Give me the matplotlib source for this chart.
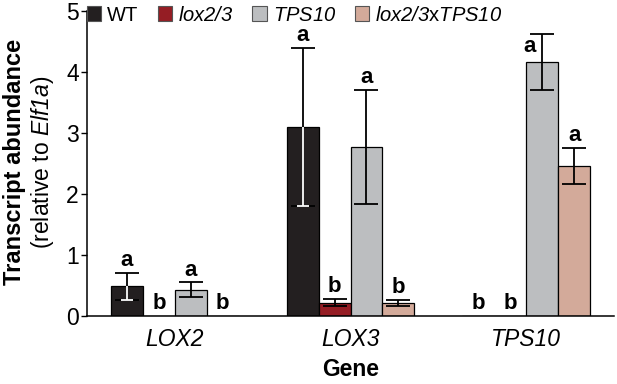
import numpy as np
import matplotlib
matplotlib.use("Agg")
import matplotlib.pyplot as plt
from matplotlib.patches import Patch

plt.rcParams["font.family"] = ["Liberation Sans", "DejaVu Sans"]
# mathtext only used for italic gene names; digits should be italic too
plt.rcParams["mathtext.fontset"] = "custom"
plt.rcParams["mathtext.rm"] = "Liberation Sans:italic"
plt.rcParams["mathtext.it"] = "Liberation Sans:italic"
plt.rcParams["mathtext.sf"] = "Liberation Sans"

genes = ["LOX2", "LOX3", "TPS10"]
genotypes = ["WT", "lox2/3", "TPS10", "lox2/3xTPS10"]
legend_labels = ["WT", r"$lox2/3$", r"$TPS10$", r"$lox2/3\mathsf{x}TPS10$"]
colors = ["#231f20", "#951d24", "#bcbec0", "#d3aa9a"]

means = {
    "WT": [0.49, 3.10, 0.0],
    "lox2/3": [0.0, 0.22, 0.0],
    "TPS10": [0.43, 2.77, 4.17],
    "lox2/3xTPS10": [0.0, 0.22, 2.46],
}
errors = {
    "WT": [0.22, 1.29, 0.0],
    "lox2/3": [0.0, 0.06, 0.0],
    "TPS10": [0.12, 0.93, 0.46],
    "lox2/3xTPS10": [0.0, 0.05, 0.30],
}
letters = {
    "WT": ["a", "a", "b"],
    "lox2/3": ["b", "b", "b"],
    "TPS10": ["a", "a", "a"],
    "lox2/3xTPS10": ["b", "b", "a"],
}

fig = plt.figure(figsize=(6.17, 3.84), dpi=100)
ax = fig.add_axes([87 / 617, 1 - 316 / 384, (614 - 87) / 617, (316 - 11) / 384])

x = np.arange(len(genes))
width = 0.182
capsize = 8.5

for i, g in enumerate(genotypes):
    pos = x + (i - 1.5) * width
    m = np.array(means[g])
    e = np.array(errors[g])
    ax.bar(pos, m, width, color=colors[i], edgecolor="black", linewidth=0.9, zorder=2)
    has = e > 0
    ax.errorbar(pos[has], m[has], yerr=e[has], fmt="none", ecolor="black",
                elinewidth=1.3, capsize=capsize, capthick=1.3, zorder=3)
    if g == "WT":
        # lower half of the error bar drawn white inside the dark bar
        ax.vlines(pos[has], m[has] - e[has], m[has], color="white", linewidth=1.3, zorder=4)
        ax.plot(pos[has], m[has] - e[has], ls="none", marker="_", ms=capsize,
                mew=1.3, color="white", zorder=4)
    for j in range(len(genes)):
        top = m[j] + e[j]
        if top > 4.5:
            ax.annotate(letters[g][j], (pos[j], top - 0.3), xytext=(-9, 0),
                        textcoords="offset points", ha="center", va="baseline",
                        fontsize=16, fontweight="bold")
        else:
            ax.annotate(letters[g][j], (pos[j], top), xytext=(0, 5),
                        textcoords="offset points", ha="center", va="baseline",
                        fontsize=16, fontweight="bold")

ax.set_xlim(-0.5, 2.5)
ax.set_ylim(0, 5)
ax.set_yticks(range(6))
ax.set_xticks(x)
ax.set_xticklabels(genes, fontstyle="italic", fontsize=16.5)
ax.tick_params(axis="y", labelsize=16.5, length=4, width=1, pad=2)
ax.tick_params(axis="x", length=0, pad=9)
ax.spines["top"].set_visible(False)
ax.spines["right"].set_visible(False)
ax.spines["left"].set_linewidth(1.1)
ax.spines["bottom"].set_linewidth(1.1)
ax.set_xlabel("Gene", fontsize=16.5, fontweight="bold", labelpad=5)

fig.text(15 / 617, 1 - 162 / 384, "Transcript abundance", rotation=90,
         ha="center", va="center", fontsize=17, fontweight="bold",
         family=["Liberation Sans Narrow", "Liberation Sans"])
fig.text(43 / 617, 1 - 162 / 384, "(relative to $Elf1a$)", rotation=90,
         ha="center", va="center", fontsize=16.5)

handles = [Patch(facecolor=c, edgecolor="#555555", linewidth=0.8) for c in colors]
ax.legend(handles, legend_labels, loc="upper left", bbox_to_anchor=(0.0, 1.018),
          ncol=4, frameon=False, fontsize=14.5, handlelength=0.7, handleheight=0.7,
          handletextpad=0.3, columnspacing=0.95, borderaxespad=0, borderpad=0)

fig.savefig("out.png", dpi=100)
